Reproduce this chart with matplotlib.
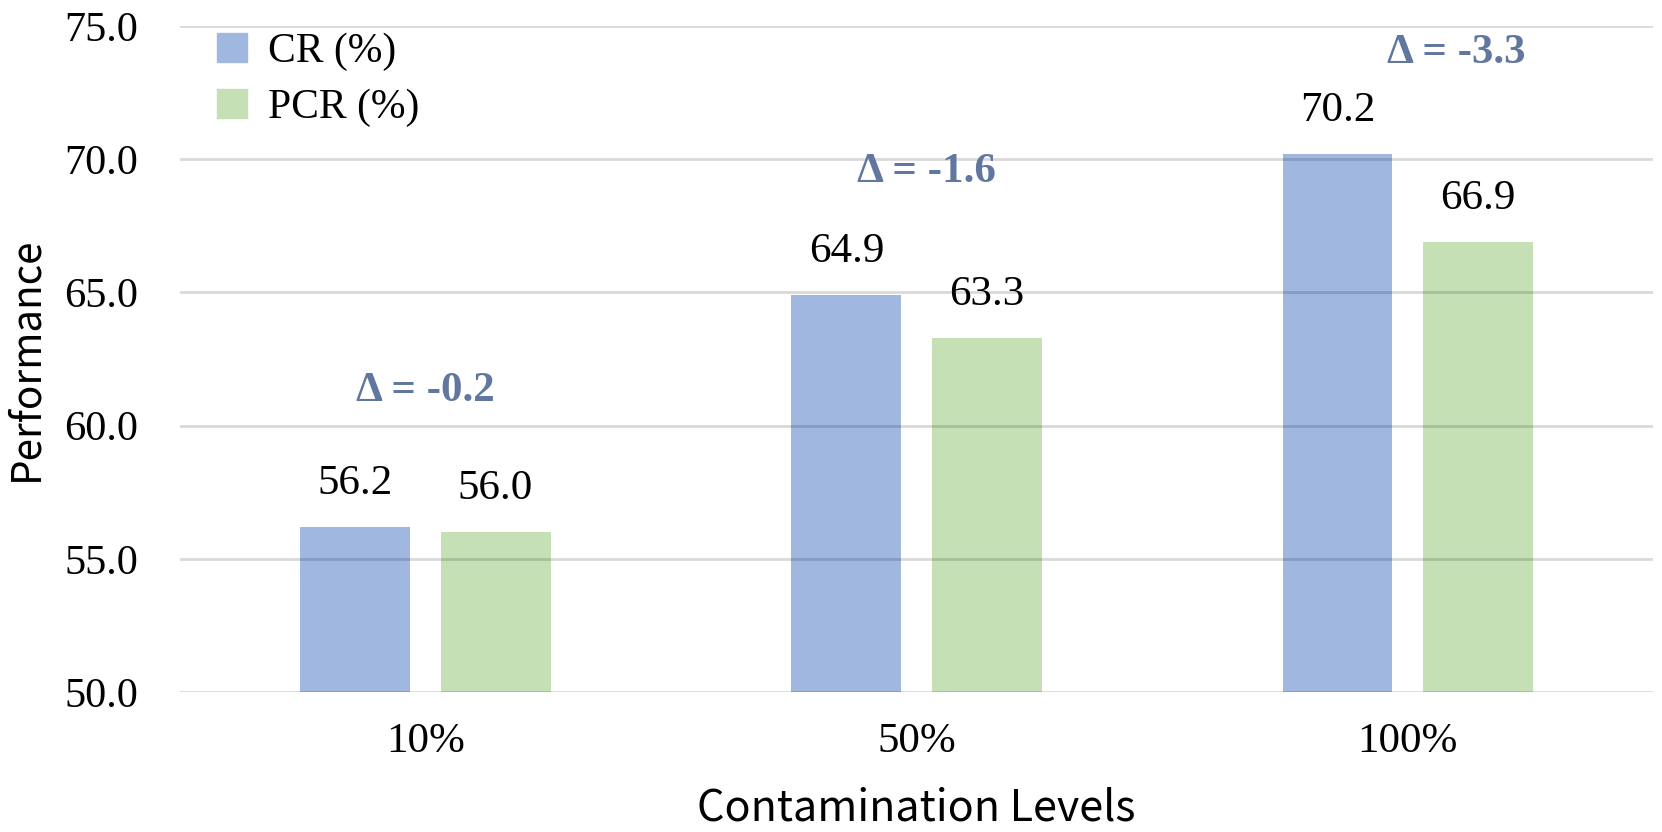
import matplotlib
matplotlib.use("Agg")
import matplotlib.pyplot as plt
import numpy as np
from matplotlib.patches import Patch

# data
levels = ["10%", "50%", "100%"]
cr = [56.2, 64.9, 70.2]
pcr = [56.0, 63.3, 66.9]
deltas = ["Δ = -0.2", "Δ = -1.6", "Δ = -3.3"]
yticks = [50.0, 55.0, 60.0, 65.0, 70.0, 75.0]

# where the delta notes sit (x shift from group centre, y in data units)
delta_dx = [0.0, 0.02, 0.1]
delta_y = [61.3, 69.5, 74.0]

BLUE = "#a0b7e0"
GREEN = "#c5e0b4"
NOTE = "#62779f"
SERIF = ["Liberation Serif", "DejaVu Serif"]
SANS = ["Noto Sans CJK SC", "DejaVu Sans"]

fig = plt.figure(figsize=(16.62, 8.32), dpi=100)
ax = fig.add_axes([0.1083, 0.1683, 0.8863, 0.8005])

x = np.arange(len(levels))
w = 0.224
off = 0.1426
b1 = ax.bar(x - off, cr, w, color=BLUE, zorder=1)
b2 = ax.bar(x + off, pcr, w, color=GREEN, zorder=1)

for bars, vals in ((b1, cr), (b2, pcr)):
    for r, v in zip(bars, vals):
        ax.annotate(f"{v:.1f}", (r.get_x() + r.get_width() / 2, v),
                    xytext=(0, 33), textcoords="offset pixels",
                    ha="center", va="baseline", fontsize=31, family=SERIF)

for xi, dx, yv, txt in zip(x, delta_dx, delta_y, deltas):
    ax.text(xi + dx, yv, txt, ha="center", va="center", fontsize=31,
            fontweight="bold", color=NOTE, family=SERIF)

ax.set_xlim(-0.5, 2.5)
ax.set_ylim(50, 75)
ax.set_yticks(yticks)
ax.set_yticklabels([f"{t:.1f}" for t in yticks], family=SERIF, fontsize=30.5)
ax.set_xticks(x)
ax.set_xticklabels(levels, family=SERIF, fontsize=31)
ax.tick_params(length=0, pad=30, axis="y")
ax.tick_params(length=0, pad=22, axis="x")
ax.yaxis.grid(True, color="black", alpha=0.15, lw=2.0, zorder=3)
ax.set_axisbelow(False)
for s in ax.spines.values():
    s.set_visible(False)

ax.set_ylabel("Performance", family=SANS, fontsize=29, fontweight="light")
ax.yaxis.set_label_coords(-0.091, 0.5)
ax.set_xlabel("Contamination Levels", family=SANS, fontsize=31,
              fontweight="light", labelpad=18)

ax.legend(handles=[Patch(color=BLUE, label="CR (%)"),
                   Patch(color=GREEN, label="PCR (%)")],
          loc="upper left", bbox_to_anchor=(0.025, 0.99), frameon=False,
          prop={"family": SERIF, "size": 30}, handlelength=0.72,
          handleheight=0.72, handletextpad=0.5, labelspacing=0.42,
          borderaxespad=0, borderpad=0)

fig.savefig("out.png", dpi=100)
